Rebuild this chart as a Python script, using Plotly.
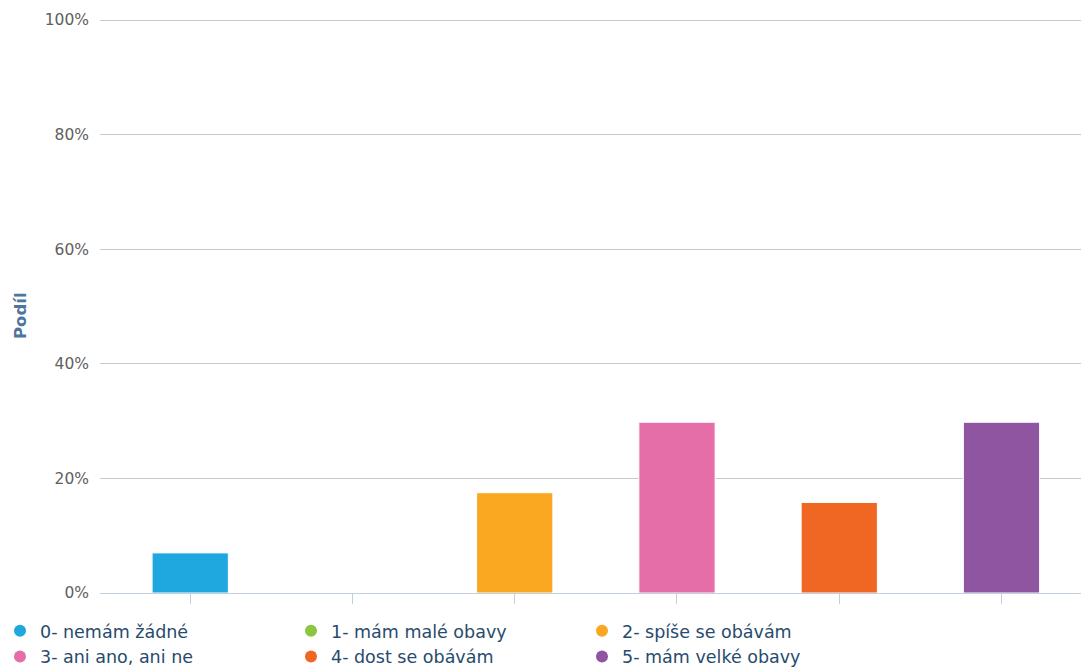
import plotly.graph_objects as go

categories = ["0- nemám žádné", "1- mám malé obavy", "2- spíše se obávám",
              "3- ani ano, ani ne", "4- dost se obávám", "5- mám velké obavy"]
shares = [7.0, 0.0, 17.5, 29.8, 15.8, 29.8]
colors = ["#1fa8e0", "#8cc63f", "#faa822", "#e56ea8", "#f06724", "#8f55a1"]
y_ticks = [0, 20, 40, 60, 80, 100]
y_tick_labels = [f"{v}%" for v in y_ticks]

FONT = "DejaVu Sans"

fig = go.Figure()
fig.add_trace(go.Bar(
    x=list(range(len(categories))), y=shares,
    marker=dict(color=colors, line=dict(color="white", width=1)),
    width=0.47, showlegend=False, hoverinfo="y",
))
for name, c in zip(categories, colors):
    fig.add_trace(go.Scatter(
        x=[None], y=[None], mode="markers", name=name,
        marker=dict(symbol="circle", size=13, color=c),
    ))

plot_w = 1081 - 100
plot_h = 669 - 19 - 76

fig.update_layout(
    width=1081, height=669,
    margin=dict(l=100, r=0, t=19, b=76, autoexpand=False),
    plot_bgcolor="white", paper_bgcolor="white",
    font=dict(family=FONT),
    bargap=0.5,
    legend=dict(
        orientation="h", x=0.0, xref="container", y=-0.0345, yanchor="top",
        entrywidth=246, entrywidthmode="pixels",
        font=dict(size=17.5, color="#274b6d", family=FONT),
        itemsizing="constant", tracegroupgap=0,
        bgcolor="rgba(0,0,0,0)",
    ),
    xaxis=dict(
        range=[-0.556, 5.49], tickmode="array",
        tickvals=list(range(len(categories))), ticktext=[""] * len(categories),
        ticks="outside", ticklen=10, tickcolor="#c0d0e0", tickwidth=1,
        showgrid=False, zeroline=False,
        showline=True, linecolor="#c0d0e0", linewidth=1,
        fixedrange=True,
    ),
    yaxis=dict(
        range=[0, 100.18], tickmode="array", tickvals=y_ticks, ticktext=y_tick_labels,
        tickfont=dict(size=15.5, color="#606060", family=FONT),
        showgrid=True, gridcolor="#c8c8c8", gridwidth=1,
        zeroline=False, showline=False, ticks="", ticklabelstandoff=10,
        fixedrange=True,
    ),
    annotations=[dict(
        text="<b>Podíl</b>", textangle=-90,
        x=(20 - 100) / plot_w, xref="paper",
        y=(593 - 316) / plot_h, yref="paper",
        showarrow=False, font=dict(size=16.5, color="#4d759e", family=FONT),
        xanchor="center", yanchor="middle",
    )],
)

fig.write_html("out.html")
